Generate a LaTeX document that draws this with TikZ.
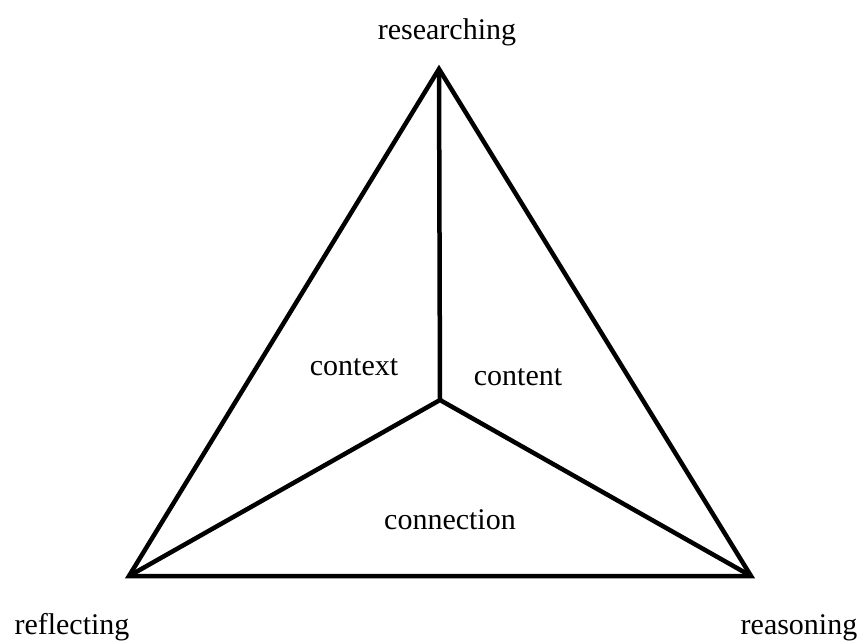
\documentclass[tikz,border=0pt]{standalone}
\usepackage{fontspec}
\setmainfont{Liberation Serif}
\begin{document}
\begin{tikzpicture}[x=1pt,y=-1pt,
  edge/.style={line width=4.5pt,line join=miter},
  lbl/.style={font=\fontsize{30}{34}\selectfont,anchor=base,inner sep=0pt}]
\useasboundingbox (0,0) rectangle (862,641);
\coordinate (T) at (439,69);
\coordinate (L) at (129,576);
\coordinate (R) at (751,576);
\coordinate (C) at (440,400);
\draw[edge] (T) -- (L) -- (R) -- cycle;
\draw[edge] (T) -- (C);
\draw[edge] (L) -- (C) -- (R);
\node[lbl] (researching) at (447,39) {researching};
\node[lbl] (reflecting) at (72,634) {reflecting};
\node[lbl] (reasoning) at (799,634) {reasoning};
\node[lbl] (context) at (354,375) {context};
\node[lbl] (content) at (518,385) {content};
\node[lbl] (connection) at (450,529) {connection};
\end{tikzpicture}
\end{document}
